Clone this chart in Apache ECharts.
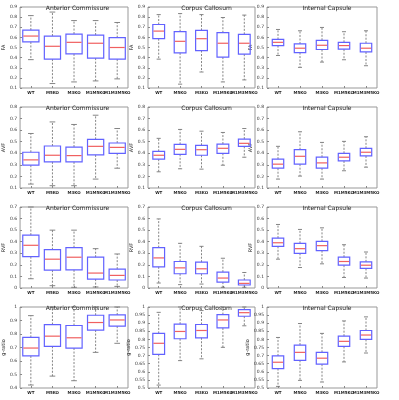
<!DOCTYPE html>
<html>
<head>
<meta charset="utf-8">
<script src="https://cdn.jsdelivr.net/npm/echarts@6/dist/echarts.min.js"></script>
<style>
html, body { margin: 0; padding: 0; background: #fff; }
#main { width: 399px; height: 400px; }
</style>
</head>
<body>
<div id="main"></div>
<script>
var categories = ['WT', 'M5KO', 'M3KO', 'M1M5KO', 'M1M3M5KO'];
var regions = ['Anterior Commissure', 'Corpus Callosum', 'Internal Capsule'];
var metrics = ['FA', 'AVF', 'RVF', 'g-ratio'];

// each box: [lower whisker, q1, median, q3, upper whisker]
var faAC = [[0.38, 0.555, 0.613, 0.672, 0.815], [0.144, 0.385, 0.512, 0.613, 0.85], [0.16, 0.437, 0.551, 0.633, 0.766], [0.17, 0.395, 0.542, 0.623, 0.766], [0.19, 0.385, 0.5, 0.597, 0.747]];
var faCC = [[0.385, 0.587, 0.662, 0.727, 0.825], [0.138, 0.447, 0.561, 0.656, 0.835], [0.258, 0.47, 0.587, 0.669, 0.825], [0.16, 0.405, 0.542, 0.646, 0.796], [0.18, 0.434, 0.542, 0.63, 0.82]];
var faIC = [[0.421, 0.519, 0.551, 0.58, 0.678], [0.304, 0.45, 0.493, 0.535, 0.665], [0.356, 0.48, 0.522, 0.571, 0.698], [0.379, 0.483, 0.519, 0.551, 0.656], [0.32, 0.456, 0.493, 0.542, 0.665]];

var avfAC = [[0.134, 0.297, 0.343, 0.409, 0.571], [0.12, 0.326, 0.383, 0.463, 0.671], [0.12, 0.326, 0.38, 0.454, 0.649], [0.177, 0.386, 0.46, 0.52, 0.729], [0.271, 0.4, 0.451, 0.489, 0.614]];
var avfCC = [[0.24, 0.349, 0.383, 0.417, 0.529], [0.266, 0.391, 0.434, 0.477, 0.606], [0.263, 0.383, 0.431, 0.469, 0.591], [0.297, 0.4, 0.443, 0.48, 0.58], [0.366, 0.46, 0.486, 0.523, 0.614]];
var avfIC = [[0.177, 0.271, 0.306, 0.349, 0.46], [0.203, 0.306, 0.374, 0.431, 0.586], [0.177, 0.271, 0.317, 0.366, 0.494], [0.249, 0.334, 0.366, 0.4, 0.503], [0.28, 0.377, 0.409, 0.443, 0.543]];

var rvfAC = [[0.08, 0.271, 0.369, 0.457, 0.7], [0.02, 0.154, 0.249, 0.331, 0.5], [0.006, 0.157, 0.266, 0.349, 0.5], [0.009, 0.077, 0.129, 0.266, 0.34], [0.014, 0.069, 0.109, 0.163, 0.294]];
var rvfCC = [[0.043, 0.183, 0.26, 0.349, 0.597], [0.029, 0.123, 0.174, 0.229, 0.386], [0.034, 0.123, 0.166, 0.223, 0.36], [0.006, 0.051, 0.086, 0.137, 0.257], [0.006, 0.026, 0.04, 0.069, 0.134]];
var rvfIC = [[0.249, 0.36, 0.391, 0.431, 0.549], [0.177, 0.3, 0.34, 0.386, 0.506], [0.209, 0.323, 0.366, 0.403, 0.52], [0.091, 0.197, 0.229, 0.266, 0.374], [0.086, 0.169, 0.197, 0.226, 0.311]];

var grAC = [[0.422, 0.638, 0.696, 0.775, 0.936], [0.488, 0.709, 0.784, 0.87, 1], [0.454, 0.696, 0.772, 0.863, 1], [0.664, 0.829, 0.885, 0.939, 1], [0.731, 0.858, 0.904, 0.941, 1]];
var grCC = [[0.518, 0.708, 0.776, 0.837, 0.967], [0.669, 0.804, 0.849, 0.894, 1], [0.68, 0.81, 0.855, 0.892, 0.978], [0.751, 0.871, 0.92, 0.953, 1], [0.884, 0.943, 0.965, 0.984, 1]];
var grIC = [[0.51, 0.62, 0.659, 0.698, 0.812], [0.547, 0.671, 0.72, 0.765, 0.898], [0.537, 0.647, 0.684, 0.72, 0.837], [0.661, 0.757, 0.788, 0.82, 0.914], [0.716, 0.8, 0.827, 0.855, 0.939]];

var panels = [
    [faAC, faCC, faIC],
    [avfAC, avfCC, avfIC],
    [rvfAC, rvfCC, rvfIC],
    [grAC, grCC, grIC]
];

// y ranges per row (and per column for the g-ratio row)
var yRanges = [
    [[0.1, 0.9, 0.1], [0.1, 0.9, 0.1], [0.1, 0.9, 0.1]],
    [[0.1, 0.8, 0.1], [0.1, 0.8, 0.1], [0.1, 0.8, 0.1]],
    [[0, 0.7, 0.1], [0, 0.7, 0.1], [0, 0.7, 0.1]],
    [[0.4, 1, 0.1], [0.5, 1, 0.05], [0.5, 1, 0.05]]
];

var colLeft = [17, 148, 267];
var colWidth = [111, 107, 110];
var boxFrac = [0.75, 0.55, 0.52];
var fontFam = 'DejaVu Sans';

var myChart = echarts.init(document.getElementById('main'));

var grids = [], xAxes = [], yAxes = [], series = [], titles = [];

function makeRender(frac) {
    return function (params, api) {
        var x = api.value(0);
        var lo = api.coord([x, api.value(1)]);
        var q1 = api.coord([x, api.value(2)]);
        var md = api.coord([x, api.value(3)]);
        var q3 = api.coord([x, api.value(4)]);
        var hi = api.coord([x, api.value(5)]);
        var band = api.size([1, 0])[0];
        var w = band * frac;
        var cx = lo[0];
        var cw = w * 0.35;
        var whisker = { stroke: '#666', lineWidth: 0.8, lineDash: [2, 1.5] };
        var cap = { stroke: '#777', lineWidth: 0.9 };
        return {
            type: 'group',
            children: [
                { type: 'line', shape: { x1: cx, y1: q3[1], x2: cx, y2: hi[1] }, style: whisker },
                { type: 'line', shape: { x1: cx, y1: q1[1], x2: cx, y2: lo[1] }, style: whisker },
                { type: 'line', shape: { x1: cx - cw / 2, y1: hi[1], x2: cx + cw / 2, y2: hi[1] }, style: cap },
                { type: 'line', shape: { x1: cx - cw / 2, y1: lo[1], x2: cx + cw / 2, y2: lo[1] }, style: cap },
                { type: 'rect', shape: { x: cx - w / 2, y: q3[1], width: w, height: q1[1] - q3[1] },
                  style: { fill: 'rgba(255,255,255,0)', stroke: '#6262ff', lineWidth: 1.2 } },
                { type: 'line', shape: { x1: cx - w / 2 + 0.6, y1: md[1], x2: cx + w / 2 - 0.6, y2: md[1] },
                  style: { stroke: '#f06060', lineWidth: 1.2 } }
            ]
        };
    };
}

for (var r = 0; r < 4; r++) {
    for (var c = 0; c < 3; c++) {
        var idx = r * 3 + c;
        var rowTop = 7 + 100 * r;
        grids.push({
            left: colLeft[c], top: rowTop, width: colWidth[c], height: 81,
            show: true, borderColor: '#999', borderWidth: 1, backgroundColor: '#fff'
        });
        titles.push({
            text: regions[c],
            left: colLeft[c] + colWidth[c] / 2,
            top: rowTop - 7,
            textAlign: 'center',
            textStyle: { fontSize: 6, fontWeight: 'normal', color: '#222', fontFamily: fontFam }
        });
        xAxes.push({
            type: 'category', gridIndex: idx, data: categories,
            axisLine: { show: false },
            axisTick: { show: true, inside: true, length: 2, alignWithLabel: true, lineStyle: { color: '#888' } },
            axisLabel: { fontSize: 4, fontWeight: 'bold', color: '#222', margin: 3, interval: 0, fontFamily: fontFam },
            splitLine: { show: false }
        });
        var yr = yRanges[r][c];
        yAxes.push({
            type: 'value', gridIndex: idx, min: yr[0], max: yr[1], interval: yr[2],
            name: metrics[r], nameLocation: 'middle', nameGap: 12, nameRotate: 90,
            nameTextStyle: { fontSize: 5, color: '#222', fontFamily: fontFam },
            axisLine: { show: false },
            axisTick: { show: true, inside: true, length: 2, lineStyle: { color: '#888' } },
            axisLabel: { fontSize: 4.5, color: '#333', margin: 3, fontFamily: fontFam },
            splitLine: { show: false }
        });
        var boxData = panels[r][c].map(function (b, k) {
            return [k, b[0], b[1], b[2], b[3], b[4]];
        });
        series.push({
            type: 'custom',
            xAxisIndex: idx, yAxisIndex: idx,
            renderItem: makeRender(boxFrac[c]),
            encode: { x: 0, y: [1, 2, 3, 4, 5] },
            data: boxData,
            silent: true
        });
    }
}

var option = {
    backgroundColor: '#fff',
    animation: false,
    title: titles,
    grid: grids,
    xAxis: xAxes,
    yAxis: yAxes,
    series: series
};
myChart.setOption(option);
</script>
</body>
</html>
